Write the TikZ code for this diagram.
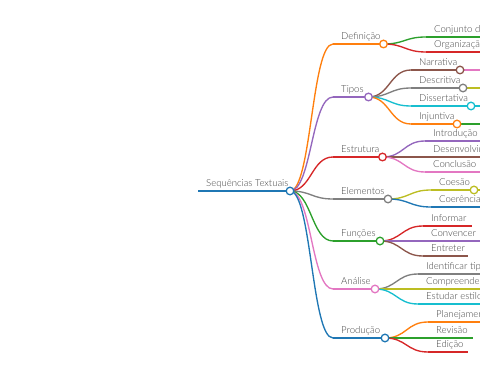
\documentclass[tikz,border=0pt]{standalone}
\usepackage{fontspec}
\setmainfont{Lato}[UprightFont={* Light}]
\usetikzlibrary{calc}
\definecolor{cblue}{HTML}{1F77B4}
\definecolor{corange}{HTML}{FF7F0E}
\definecolor{cgreen}{HTML}{2CA02C}
\definecolor{cred}{HTML}{D62728}
\definecolor{cpurple}{HTML}{9467BD}
\definecolor{cbrown}{HTML}{8C564B}
\definecolor{cpink}{HTML}{E377C2}
\definecolor{cgray}{HTML}{7F7F7F}
\definecolor{colive}{HTML}{BCBD22}
\definecolor{ccyan}{HTML}{17BECF}
\definecolor{txt}{HTML}{444444}
\newcommand\mmitem[6]{%
  \coordinate (#1S) at (#2,#4);
  \coordinate (#1E) at (#3,#4);
  \draw[edge=#5] (#1S) -- (#1E);
  \node[lbl] (#1) at ($(#1S)+(8,-4.5)$) {#6};}
\newcommand\mmlink[3]{%
  \path ($(#1)!.5!(#2)$) coordinate (mm);
  \draw[edge=#3] (#1) .. controls (mm |- #1) and (mm |- #2) .. (#2);}
\begin{document}
\begin{tikzpicture}[x=1pt,y=-1pt,
  edge/.style={draw=#1, line width=1.35pt},
  dot/.style={circle, draw=#1, fill=white, line width=1.3pt, minimum size=7.6pt, inner sep=0pt},
  lbl/.style={anchor=base west, inner sep=0pt, font=\fontsize{9.6}{10}\selectfont, text=txt}]
\clip (0,0) rectangle (480,379);
\coordinate (edgeX) at (482,0);
% root
\mmitem{root}{198}{290}{191}{cblue}{Sequências Textuais}
% level 1
\mmitem{def}{333}{383.5}{44}{corange}{Definição}
\mmitem{tip}{333}{368.5}{97}{cpurple}{Tipos}
\mmitem{est}{333}{382.5}{157}{cred}{Estrutura}
\mmitem{ele}{333}{388}{199}{cgray}{Elementos}
\mmitem{fun}{333}{380}{241}{cgreen}{Funções}
\mmitem{ana}{333}{375}{289}{cpink}{Análise}
\mmitem{pro}{333}{385}{338}{cblue}{Produção}
\mmlink{rootE}{defS}{corange}
\mmlink{rootE}{tipS}{cpurple}
\mmlink{rootE}{estS}{cred}
\mmlink{rootE}{eleS}{cgray}
\mmlink{rootE}{funS}{cgreen}
\mmlink{rootE}{anaS}{cpink}
\mmlink{rootE}{proS}{cblue}
% level 2: Definicao
\mmitem{conj}{426}{482}{37}{cgreen}{Conjunto de}
\mmitem{org}{426}{482}{52}{cred}{Organização}
\mmlink{defE}{conjS}{cgreen}
\mmlink{defE}{orgS}{cred}
% Tipos
\mmitem{nar}{411}{460}{70}{cbrown}{Narrativa}
\mmitem{des}{411}{463}{88}{cgray}{Descritiva}
\mmitem{dis}{411}{471}{106}{ccyan}{Dissertativa}
\mmitem{inj}{411}{457}{124}{corange}{Injuntiva}
\mmlink{tipE}{narS}{cbrown}
\mmlink{tipE}{desS}{cgray}
\mmlink{tipE}{disS}{ccyan}
\mmlink{tipE}{injS}{corange}
\draw[edge=cpink] (narE) -- (narE -| edgeX);
\draw[edge=colive] (desE) -- (desE -| edgeX);
\draw[edge=ccyan] (disE) -- (disE -| edgeX);
\draw[edge=cgreen] (injE) -- (injE -| edgeX);
% Estrutura
\mmitem{int}{425}{482}{141}{cpurple}{Introdução}
\mmitem{dev}{425}{482}{157}{cbrown}{Desenvolvimento}
\mmitem{con}{425}{482}{172}{cpink}{Conclusão}
\mmlink{estE}{intS}{cpurple}
\mmlink{estE}{devS}{cbrown}
\mmlink{estE}{conS}{cpink}
% Elementos
\mmitem{coe}{431}{474}{190}{colive}{Coesão}
\mmitem{coer}{431}{482}{207}{cblue}{Coerência}
\mmlink{eleE}{coeS}{colive}
\mmlink{eleE}{coerS}{cblue}
\draw[edge=colive] (coeE) -- (coeE -| edgeX);
% Funcoes
\mmitem{inf}{423}{472}{226}{cred}{Informar}
\mmitem{conv}{423}{482}{241}{cpurple}{Convencer}
\mmitem{ent}{423}{468}{256}{cbrown}{Entreter}
\mmlink{funE}{infS}{cred}
\mmlink{funE}{convS}{cpurple}
\mmlink{funE}{entS}{cbrown}
% Analise
\mmitem{idt}{418}{482}{274}{cgray}{Identificar tipos}
\mmitem{comp}{418}{482}{289}{colive}{Compreender}
\mmitem{estu}{418}{482}{304}{ccyan}{Estudar estilos}
\mmlink{anaE}{idtS}{cgray}
\mmlink{anaE}{compS}{colive}
\mmlink{anaE}{estuS}{ccyan}
% Producao
\mmitem{pla}{428}{482}{322}{corange}{Planejamento}
\mmitem{rev}{428}{473}{338}{cgreen}{Revisão}
\mmitem{edi}{428}{468}{352}{cred}{Edição}
\mmlink{proE}{plaS}{corange}
\mmlink{proE}{revS}{cgreen}
\mmlink{proE}{ediS}{cred}
% circles
\node[dot=cblue] (rootC) at (rootE) {};
\node[dot=corange] (defC) at (defE) {};
\node[dot=cpurple] (tipC) at (tipE) {};
\node[dot=cred] (estC) at (estE) {};
\node[dot=cgray] (eleC) at (eleE) {};
\node[dot=cgreen] (funC) at (funE) {};
\node[dot=cpink] (anaC) at (anaE) {};
\node[dot=cblue] (proC) at (proE) {};
\node[dot=cbrown] (narC) at (narE) {};
\node[dot=cgray] (desC) at (desE) {};
\node[dot=ccyan] (disC) at (disE) {};
\node[dot=corange] (injC) at (injE) {};
\node[dot=colive] (coeC) at (coeE) {};
\end{tikzpicture}
\end{document}
